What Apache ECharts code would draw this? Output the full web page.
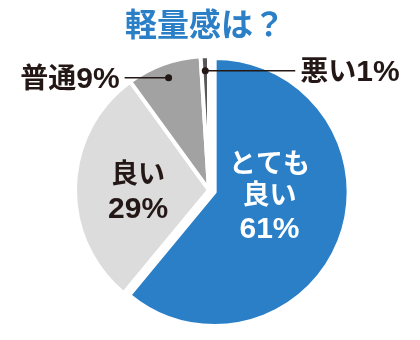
<!DOCTYPE html>
<html><head><meta charset="utf-8">
<script src="https://cdn.jsdelivr.net/npm/echarts@6/dist/echarts.min.js"></script>
<style>html,body{margin:0;padding:0;background:#fff}#c{width:420px;height:340px}</style>
</head><body><div id="c"></div>
<script>
const title = '軽量感は？';
const categories = ['とても\n良い', '良い', '普通', '悪い'];
const values = [61, 29, 9, 1];
const colors = ['#2a7fc7', '#dcdcdc', '#a2a2a2', '#595757'];
const outsideIdx = [2, 3];

const FONT = 'Liberation Sans, Noto Sans CJK JP, sans-serif';
const total = values.reduce((a, b) => a + b, 0);
const cum = [];
values.reduce((acc, v, i) => { cum[i] = acc + v / 2; return acc + v; }, 0);

const CENTER = [209, 190];
const R = 134;
// leader style per outside label: direction and length (px)
const leaderStyle = [{dir: -1, len: 44}, {dir: 1, len: 90}];

const chart = echarts.init(document.getElementById('c'), null, {renderer: 'canvas'});
chart.setOption({
  animation: false,
  title: {
    text: title, left: 125, top: 11, padding: 0,
    textStyle: {fontFamily: FONT, fontSize: 32, fontWeight: 'bold', color: '#2a7fc7'}
  },
  polar: {center: CENTER, radius: R},
  angleAxis: {type: 'value', min: 0, max: total, startAngle: 90, clockwise: true, show: false},
  radiusAxis: {type: 'value', min: 0, max: 1, show: false},
  series: [{
    type: 'pie',
    z: 1,
    center: CENTER,
    radius: R,
    startAngle: 90,
    clockwise: true,
    selectedMode: 'single',
    selectedOffset: 6,
    emphasis: {disabled: true},
    select: {itemStyle: {borderColor: '#fff', borderWidth: 4}},
    itemStyle: {borderColor: '#fff', borderWidth: 4},
    label: {
      show: true, position: 'inner',
      fontFamily: FONT, fontWeight: 'bold',
      formatter: p => '{a|' + p.name + '}\n{b|' + p.value + '%}',
      rich: {
        a: {fontFamily: FONT, fontSize: 27, fontWeight: 'bold', lineHeight: 31},
        b: {fontFamily: FONT, fontSize: 30, fontWeight: 'bold', lineHeight: 36}
      }
    },
    labelLine: {show: false},
    labelLayout: p => {
      const d = [[-11, -17], [-1, 6]][p.dataIndex];
      return d ? {dx: d[0], dy: d[1]} : {};
    },
    data: categories.map((n, i) => ({
      name: n, value: values[i], selected: i === 0,
      itemStyle: {color: colors[i]},
      label: outsideIdx.includes(i) ? {show: false} : {color: i === 0 ? '#fff' : '#231815'}
    }))
  }, {
    type: 'custom',
    coordinateSystem: 'polar',
    z: 10,
    zlevel: 1,
    silent: true,
    data: outsideIdx.map(i => ({name: categories[i], value: [0.89, cum[i], values[i]]})),
    renderItem: (params, api) => {
      const pt = api.coord([api.value(0), api.value(1)]);
      const st = leaderStyle[params.dataIndex];
      const x2 = pt[0] + st.dir * st.len;
      const name = categories[outsideIdx[params.dataIndex]];
      return {
        type: 'group',
        children: [
          {type: 'line', shape: {x1: pt[0], y1: pt[1], x2: x2, y2: pt[1]},
           style: {stroke: '#231815', lineWidth: 1.5}},
          {type: 'circle', shape: {cx: pt[0], cy: pt[1], r: 3.5}, style: {fill: '#231815'}},
          {type: 'text', x: x2 + st.dir * 5, y: pt[1] + 2,
           style: {
             text: '{a|' + name + '}{b|' + api.value(2) + '%}',
             rich: {
               a: {fontFamily: FONT, fontSize: 28, fontWeight: 'bold', fill: '#231815'},
               b: {fontFamily: FONT, fontSize: 30, fontWeight: 'bold', fill: '#231815'}
             },
             align: st.dir < 0 ? 'right' : 'left', verticalAlign: 'middle'
           }}
        ]
      };
    }
  }]
});
</script></body></html>
